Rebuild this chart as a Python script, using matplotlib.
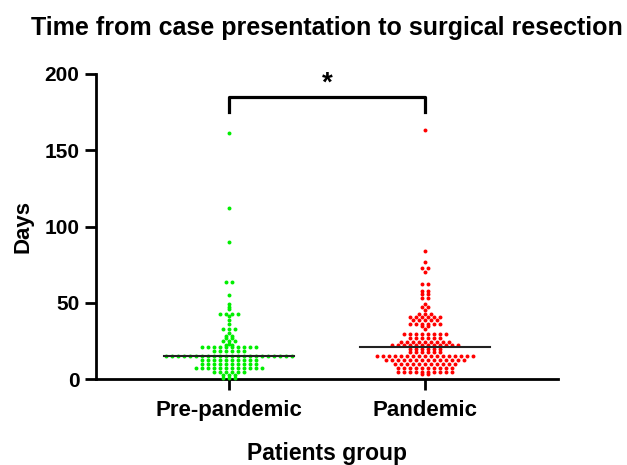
import numpy as np
import matplotlib
matplotlib.use("Agg")
import matplotlib.pyplot as plt

plt.rcParams['font.family'] = ['Liberation Sans', 'DejaVu Sans']
plt.rcParams['font.weight'] = 'bold'

# days from presentation to resection (one entry per patient)
pre_pandemic = ([161, 112, 90, 63.5, 63.5, 55, 49, 47, 46]
                + [42.7] * 4 + [41, 39, 36] + [32.5] * 3 + [30]
                + [28.5] * 2 + [27] * 2 + [25] * 3 + [23] + [22] * 2
                + [21] * 10 + [18.5] * 6 + [15] * 22 + [12.7] * 10
                + [10] * 10 + [7.4] * 12 + [4.8] * 6 + [2.4] * 3 + [0.7] * 3)
pandemic = ([163, 84, 77, 72.5, 72.5, 70, 62, 62, 58, 58, 55.5, 55.5, 53, 53,
             49, 47.4, 47.4, 45.4]
            + [42.7] * 3 + [40.8] * 6 + [38.8] * 5 + [36.4] * 6 + [35] * 2
            + [32.9] + [29.6] * 8 + [27] * 6 + [24.3] * 9 + [22] * 12
            + [19.8] * 6 + [17.5] * 6 + [15.3] * 17 + [12.7] * 14
            + [9.6] * 11 + [7.1] * 10 + [4.9] * 10 + [3.5] * 2)
groups = ['Pre-pandemic', 'Pandemic']
colors = ['#00ee00', '#ff0000']


def row_offsets(vals, step):
    # GraphPad style: equal values share a row, centred on the column
    vals = np.asarray(vals)
    offs = np.zeros(len(vals))
    for v in np.unique(vals):
        idx = np.where(vals == v)[0]
        n = len(idx)
        offs[idx] = (np.arange(n) - (n - 1) / 2.0) * step
    return offs


fig = plt.figure(figsize=(6.27, 4.65), dpi=100)
ax = fig.add_axes([0.1531, 0.1849, 0.7368, 0.6560])
ax.set_xlim(-0.675, 1.675)
ax.set_ylim(0, 200)
fig.canvas.draw()

# one dot step of 6 px, in x data units
px_per_unit = ax.transData.transform((1, 0))[0] - ax.transData.transform((0, 0))[0]
step = 6.0 / px_per_unit

for k, vals in enumerate([pre_pandemic, pandemic]):
    vals = np.array(vals, dtype=float)
    xs = k + row_offsets(vals, step)
    ax.scatter(xs, vals, s=8, color=colors[k], linewidths=0, zorder=3, clip_on=False)
    med = np.median(vals)
    ax.plot([k - 0.33, k + 0.33], [med, med], color='#222222', lw=1.5, zorder=4)

# significance bracket
ax.plot([0, 0, 1, 1], [175, 184.7, 184.7, 175], color='black', lw=2.3, clip_on=False)
ax.text(0.5, 194, '*', ha='center', va='center', fontsize=20, fontweight='bold')

for s in ['top', 'right']:
    ax.spines[s].set_visible(False)
for s in ['left', 'bottom']:
    ax.spines[s].set_linewidth(2)

ax.set_xticks([0, 1])
ax.set_xticklabels(groups, fontsize=16, fontweight='bold')
ax.set_yticks([0, 50, 100, 150, 200])
ax.tick_params(axis='both', width=2, length=8)
ax.tick_params(axis='x', pad=7)
ax.tick_params(axis='y', labelsize=15, pad=4)
for lab in ax.get_yticklabels():
    lab.set_fontweight('bold')
ax.set_ylabel('Days', fontsize=16, fontweight='bold', labelpad=8)
ax.set_xlabel('Patients group', fontsize=16.5, fontweight='bold', labelpad=15)
ax.set_title('Time from case presentation to surgical resection', fontsize=18,
             fontweight='bold', pad=28)

fig.savefig('out.png', dpi=100)
